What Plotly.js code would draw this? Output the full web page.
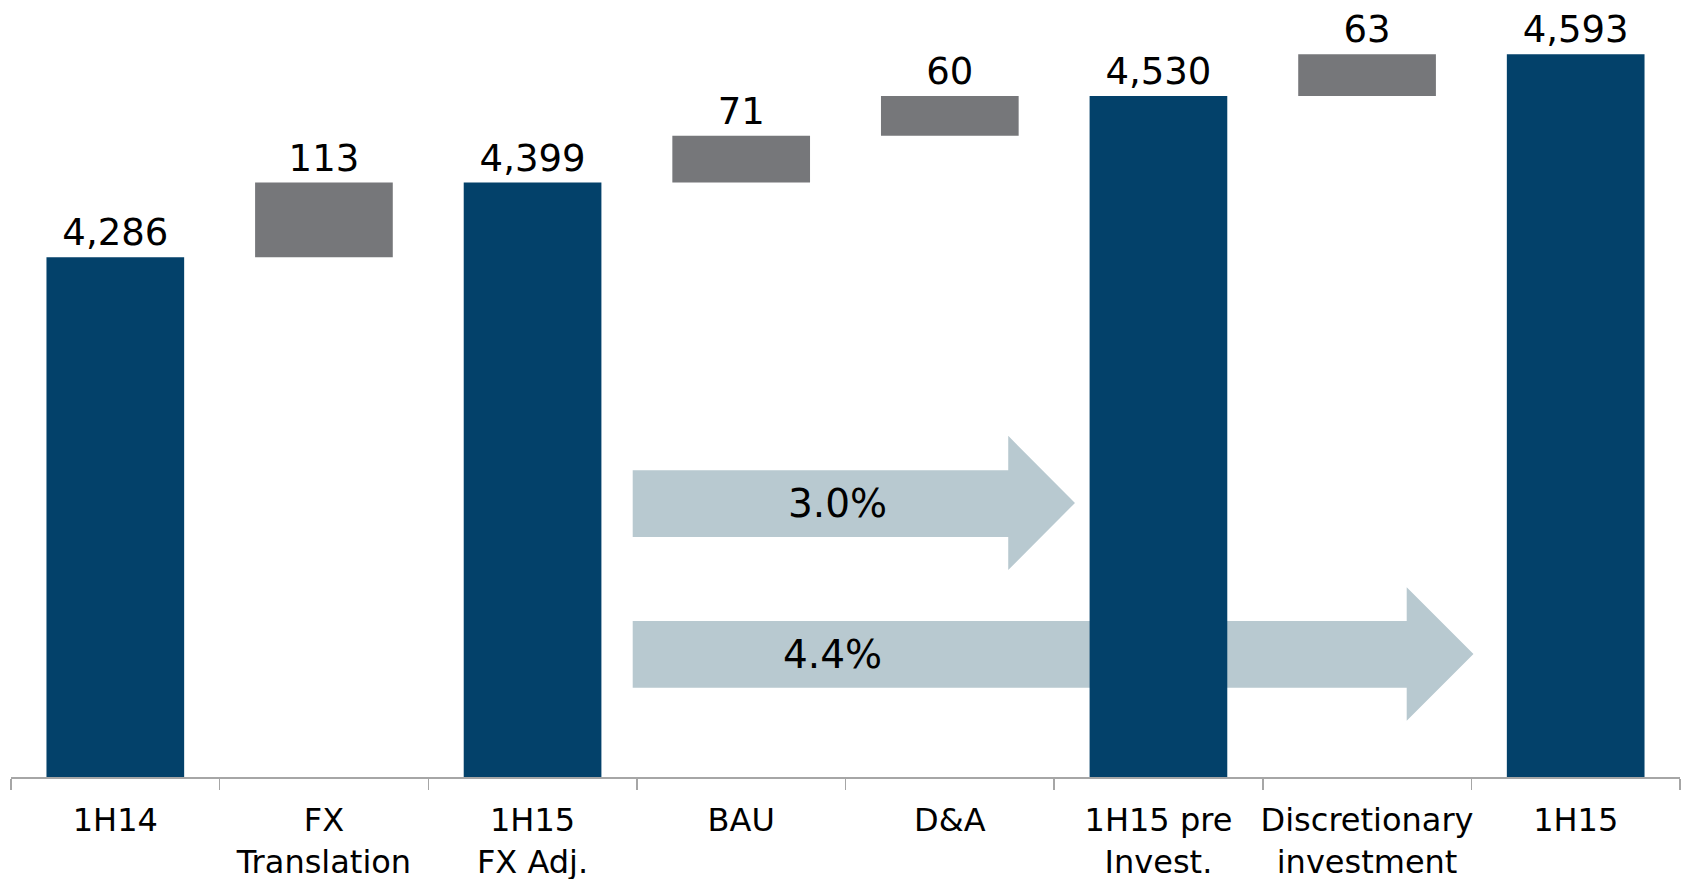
<!DOCTYPE html>
<html>
<head>
<meta charset="utf-8">
<script src="https://cdn.plot.ly/plotly-3.0.1.min.js"></script>
<style>html,body{margin:0;padding:0;background:#fff;}#chart{width:1687px;height:879px;}</style>
</head>
<body>
<div id="chart"></div>
<script>
const categories = ["1H14", "FX<br>Translation", "1H15<br>FX Adj.", "BAU", "D&A", "1H15 pre<br>Invest.", "Discretionary<br>investment", "1H15"];
const measures = ["absolute", "relative", "total", "relative", "relative", "total", "relative", "total"];
const values = [4286, 113, null, 71, 60, null, 63, null];
const growthLabels = ["3.0%", "4.4%"];

// label text: running totals for totals/absolute, deltas for relative
let running = 0;
const labels = values.map((v, i) => {
  if (measures[i] === "absolute") { running = v; return v.toLocaleString("en-US"); }
  if (measures[i] === "relative") { running += v; return v.toLocaleString("en-US"); }
  return running.toLocaleString("en-US");
});

const navy = "#03416A";
const gray = "#76777A";
const arrowColor = "#B8C9D0";
const font = "DejaVu Sans, Verdana, sans-serif";

const trace = {
  type: "waterfall",
  x: categories,
  y: values.map(v => v === null ? 0 : v),
  measure: measures,
  text: labels,
  textinfo: "text",
  textposition: "outside",
  constraintext: "none",
  cliponaxis: false,
  textfont: {family: font, size: 37, color: "#000"},
  increasing: {marker: {color: gray}},
  decreasing: {marker: {color: gray}},
  totals: {marker: {color: navy}},
  connector: {visible: false},
  hoverinfo: "none"
};

function arrowPath(x0, xh, xt, yb0, yb1, yh0, yh1) {
  const ym = (yh0 + yh1) / 2;
  return `M ${x0} ${yb0} L ${xh} ${yb0} L ${xh} ${yh0} L ${xt} ${ym} L ${xh} ${yh1} L ${xh} ${yb1} L ${x0} ${yb1} Z`;
}

const layout = {
  width: 1687, height: 879,
  margin: {l: 11, r: 7, t: 10, b: 102},
  paper_bgcolor: "#fff", plot_bgcolor: "#fff",
  showlegend: false,
  waterfallgap: 0.34,
  xaxis: {
    type: "category",
    showline: true, linecolor: "#A6A6A6", linewidth: 1.5,
    ticks: "outside", tickson: "boundaries", ticklen: 11, tickcolor: "#A6A6A6", tickwidth: 1.5,
    tickangle: 0, ticklabelstandoff: 14,
    tickfont: {family: font, size: 32, color: "#000"},
    showgrid: false, zeroline: false, fixedrange: true
  },
  yaxis: {range: [3500, 4660], visible: false, showgrid: false, zeroline: false, fixedrange: true},
  shapes: [
    {type: "path", xref: "x", yref: "y", layer: "below", line: {width: 0}, fillcolor: arrowColor,
     path: arrowPath(2.48, 4.28, 4.6, 3964, 3863, 4016, 3813)},
    {type: "path", xref: "x", yref: "y", layer: "below", line: {width: 0}, fillcolor: arrowColor,
     path: arrowPath(2.48, 6.19, 6.51, 3736, 3635, 3787, 3585)}
  ],
  annotations: [
    {x: 3.46, y: 3914, xref: "x", yref: "y", text: growthLabels[0], showarrow: false,
     font: {family: font, size: 39, color: "#000"}},
    {x: 3.44, y: 3686, xref: "x", yref: "y", text: growthLabels[1], showarrow: false,
     font: {family: font, size: 39, color: "#000"}}
  ]
};

Plotly.newPlot("chart", [trace], layout, {displayModeBar: false, staticPlot: true});
</script>
</body>
</html>
